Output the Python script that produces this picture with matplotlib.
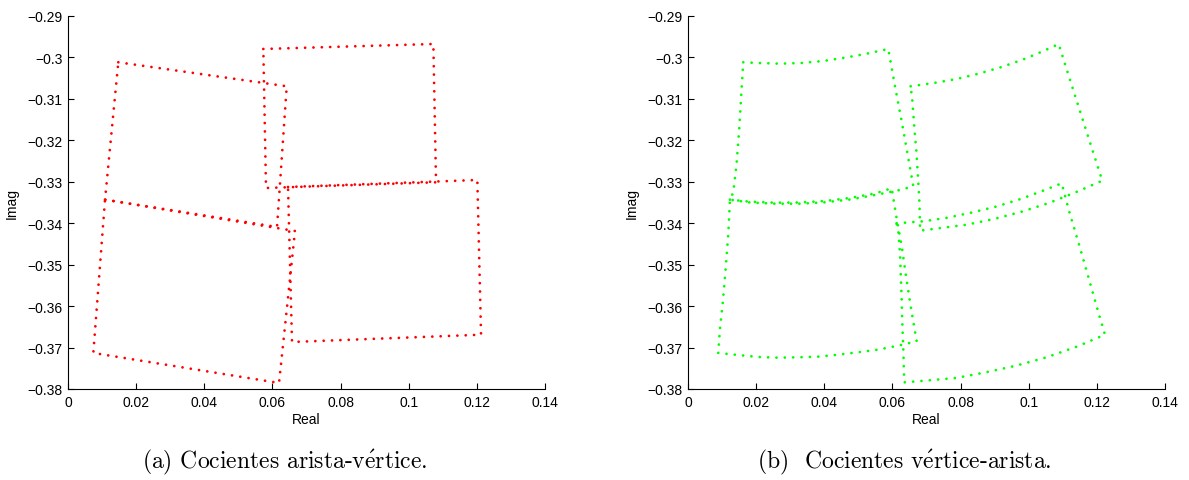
import matplotlib
matplotlib.use("Agg")
import matplotlib.pyplot as plt
from matplotlib.ticker import FuncFormatter

# (a) cocientes arista-vertice: straight quadrilaterals, corners
av_1_re = [0.01476, 0.06419, 0.06134, 0.01086]
av_1_im = [-0.30117, -0.30696, -0.34091, -0.33432]
av_2_re = [0.05732, 0.10722, 0.10801, 0.05811]
av_2_im = [-0.29796, -0.29676, -0.33013, -0.33150]
av_3_re = [0.01086, 0.06662, 0.06193, 0.00743]
av_3_im = [-0.33432, -0.34188, -0.37855, -0.37131]
av_4_re = [0.06457, 0.12013, 0.12122, 0.06574]
av_4_im = [-0.33126, -0.32957, -0.36690, -0.36866]

# (b) cocientes vertice-arista: curved quadrilaterals, points along each edge
va_1_re = [0.01623, 0.02034, 0.02700, 0.03337, 0.03971, 0.04608, 0.05245, 0.05879,
           0.06084, 0.06272, 0.06457, 0.06613,
           0.06222, 0.05488, 0.04755, 0.04021, 0.03287, 0.02553, 0.01820, 0.01233,
           0.01330, 0.01429, 0.01506, 0.01564]
va_1_im = [-0.30117, -0.30134, -0.30151, -0.30134, -0.30086, -0.30006, -0.29910, -0.29796,
           -0.30730, -0.31541, -0.32385, -0.33109,
           -0.33198, -0.33319, -0.33428, -0.33495, -0.33529, -0.33529, -0.33500, -0.33432,
           -0.33254, -0.32547, -0.31710, -0.30906]
va_2_re = [0.06536, 0.07220, 0.07886, 0.08532, 0.09178, 0.09823, 0.10458, 0.10880,
           0.11174, 0.11485, 0.11808, 0.12160,
           0.11379, 0.10595, 0.09794, 0.08981, 0.08180, 0.07346, 0.06809,
           0.06809, 0.06789, 0.06712, 0.06642, 0.06583]
va_2_im = [-0.30696, -0.30617, -0.30520, -0.30392, -0.30238, -0.30054, -0.29837, -0.29676,
           -0.30441, -0.31244, -0.32072, -0.32974,
           -0.33254, -0.33512, -0.33722, -0.33898, -0.34036, -0.34123, -0.34180,
           -0.33978, -0.33416, -0.32354, -0.31671, -0.31020]
va_3_re = [0.01233, 0.01820, 0.02553, 0.03287, 0.04021, 0.04755, 0.05488, 0.05979,
           0.06143, 0.06272, 0.06398, 0.06545, 0.06712,
           0.06155, 0.05568, 0.04981, 0.04394, 0.03807, 0.03237, 0.02650, 0.02063, 0.01476, 0.00889,
           0.00939, 0.01018, 0.01106, 0.01183]
va_3_im = [-0.33432, -0.33481, -0.33505, -0.33500, -0.33464, -0.33391, -0.33283, -0.33157,
           -0.33978, -0.34543, -0.35267, -0.36046, -0.36850,
           -0.36956, -0.37052, -0.37115, -0.37173, -0.37221, -0.37235, -0.37245, -0.37228, -0.37180, -0.37131,
           -0.36552, -0.35949, -0.35105, -0.34260]
va_4_re = [0.06125, 0.06906, 0.07622, 0.08356, 0.09078, 0.09794, 0.10498, 0.10968,
           0.11191, 0.11505, 0.11828, 0.12092, 0.12239,
           0.11408, 0.10528, 0.09627, 0.08746, 0.07857, 0.06935, 0.06348,
           0.06319, 0.06290, 0.06272, 0.06222, 0.06172]
va_4_im = [-0.34002, -0.33954, -0.33867, -0.33737, -0.33592, -0.33408, -0.33191, -0.33037,
           -0.33722, -0.34591, -0.35522, -0.36287, -0.36690,
           -0.36979, -0.37235, -0.37438, -0.37597, -0.37735, -0.37800, -0.37839,
           -0.37018, -0.36408, -0.35829, -0.34719, -0.34180]

x_ticks = [0, 0.02, 0.04, 0.06, 0.08, 0.1, 0.12, 0.14]
y_ticks = [-0.38, -0.37, -0.36, -0.35, -0.34, -0.33, -0.32, -0.31, -0.3, -0.29]
# accent done through mathtext so it stays in computer modern
captions = [r"(a) Cocientes arista-v$\acute{\mathrm{e}}$rtice.",
            r"(b)  Cocientes v$\acute{\mathrm{e}}$rtice-arista."]

plt.rcParams['font.family'] = ['Liberation Sans', 'DejaVu Sans']
plt.rcParams['mathtext.fontset'] = 'cm'


def matlab_fmt(v, pos):
    return ('%g' % v).replace('-', '\u2212')


fig = plt.figure(figsize=(11.89, 4.81), dpi=100)
ax_a = fig.add_axes([0.0572, 0.1892, 0.4012, 0.7755])
ax_b = fig.add_axes([0.5786, 0.1892, 0.4012, 0.7755])

dot_style = dict(linestyle=(0, (0.01, 3.0)), linewidth=2.0, dash_capstyle='round')

for re, im in [(av_1_re, av_1_im), (av_2_re, av_2_im), (av_3_re, av_3_im), (av_4_re, av_4_im)]:
    ax_a.plot(re + re[:1], im + im[:1], color=(1, 0, 0), **dot_style)

for re, im in [(va_1_re, va_1_im), (va_2_re, va_2_im), (va_3_re, va_3_im), (va_4_re, va_4_im)]:
    ax_b.plot(re + re[:1], im + im[:1], color=(0, 1, 0), **dot_style)

for ax, cap in zip([ax_a, ax_b], captions):
    ax.set_xlim(0, 0.14)
    ax.set_ylim(-0.38, -0.29)
    ax.set_xticks(x_ticks)
    ax.set_yticks(y_ticks)
    ax.xaxis.set_major_formatter(FuncFormatter(matlab_fmt))
    ax.yaxis.set_major_formatter(FuncFormatter(matlab_fmt))
    ax.spines['top'].set_visible(False)
    ax.spines['right'].set_visible(False)
    ax.spines['left'].set_linewidth(0.8)
    ax.spines['bottom'].set_linewidth(0.8)
    ax.tick_params(direction='in', length=4, width=0.8, labelsize=10, pad=4)
    ax.set_xlabel('Real', fontsize=10)
    ax.set_ylabel('Imag', fontsize=10)
    ax.xaxis.set_label_coords(0.5, -0.062)
    ax.yaxis.set_label_coords(-0.103, 0.5)
    ax.text(0.454, -0.193, cap, transform=ax.transAxes, ha='center', va='center',
            fontsize=17, family=['cmr10', 'DejaVu Serif'])

fig.savefig('out.png', dpi=100)
